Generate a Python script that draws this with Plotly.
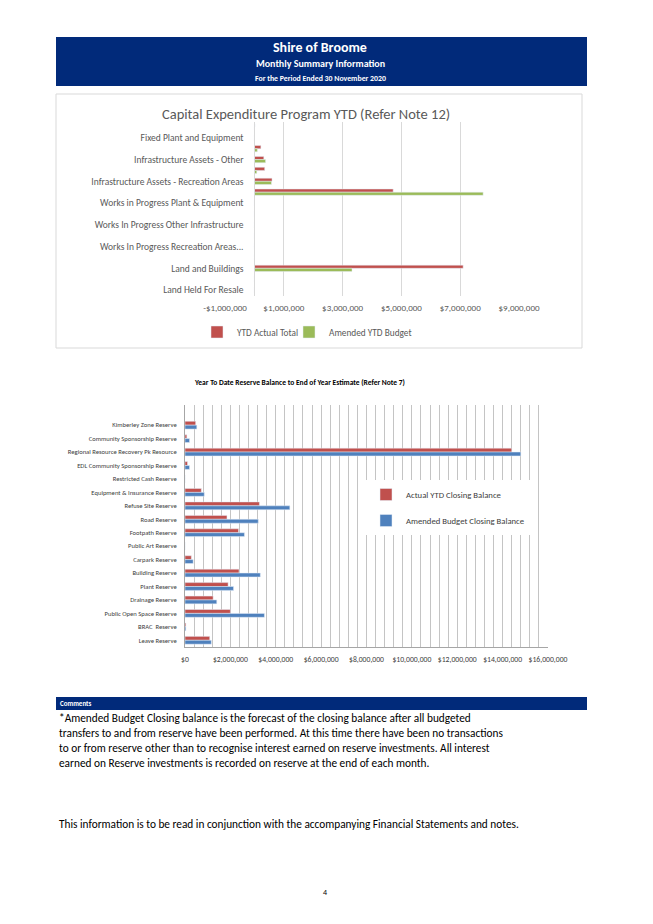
import plotly.graph_objects as go

W, H = 653, 924

# ---------------- Data ----------------
# Capital Expenditure Program YTD (listed top to bottom as drawn)
cap_categories = [
    "Furniture and Equipment",
    "Fixed Plant and Equipment",
    "Plant and Equipment",
    "Infrastructure Assets - Other",
    "Infrastructure Assets - Drainage",
    "Infrastructure Assets - Recreation Areas",
    "Infrastructure Assets - Roads",
    "Works in Progress Plant & Equipment",
    "Works In Progress Drainage",
    "Works In Progress Other Infrastructure",
    "Works In Progress Footpaths",
    "Works In Progress Recreation Areas...",
    "Works In Progress Roads",
    "Land and Buildings",
    "Works In Progress Buildings",
    "Land Held For Resale",
]
cap_labelled = [
    "Fixed Plant and Equipment",
    "Infrastructure Assets - Other",
    "Infrastructure Assets - Recreation Areas",
    "Works in Progress Plant & Equipment",
    "Works In Progress Other Infrastructure",
    "Works In Progress Recreation Areas...",
    "Land and Buildings",
    "Land Held For Resale",
]
ytd_actual_total = [20000, 0, 220000, 320000, 350000, 600000, 4720000, 0,
                    0, 0, 0, 0, 0, 7100000, 0, 0]
amended_ytd_budget = [0, 0, 100000, 380000, 80000, 580000, 7780000, 0,
                      0, 0, 0, 0, 0, 3320000, 0, 0]
cap_ticks = [-1000000, 1000000, 3000000, 5000000, 7000000, 9000000]

# Reserve balances (listed top to bottom as drawn)
reserves = [
    "Kimberley Zone Reserve",
    "Community Sponsorship Reserve",
    "Regional Resource Recovery Pk Resource",
    "EDL Community Sponsorship Reserve",
    "Restricted Cash Reserve",
    "Equipment & Insurance Reserve",
    "Refuse Site Reserve",
    "Road Reserve",
    "Footpath Reserve",
    "Public Art Reserve",
    "Carpark Reserve",
    "Building Reserve",
    "Plant Reserve",
    "Drainage Reserve",
    "Public Open Space Reserve",
    "BRAC  Reserve",
    "Leave Reserve",
]
actual_ytd_closing = [470000, 80000, 14400000, 110000, 0, 720000, 3280000,
                      1850000, 2360000, 0, 280000, 2380000, 1900000, 1240000,
                      2000000, 40000, 1090000]
amended_budget_closing = [520000, 200000, 14800000, 200000, 0, 850000, 4620000,
                          3230000, 2620000, 0, 360000, 3320000, 2140000, 1400000,
                          3500000, 40000, 1160000]
res_ticks = [0, 2000000, 4000000, 6000000, 8000000, 10000000, 12000000,
             14000000, 16000000]


def money(v):
    return ("-$" if v < 0 else "$") + f"{abs(v):,.0f}"


# page pixel -> paper fraction (the page body adds an 8px offset)
OFF = 8


def px(x):
    return (x - OFF) / W


def py(y):
    return 1 - (y - OFF) / H


FONT = "Calibri, Carlito, Lato, sans-serif"
NAVY = "#012a7a"
RED = "#c0504d"
GREEN = "#9bbb59"
BLUE = "#4f81bd"

fig = go.Figure()

fig.add_trace(go.Bar(y=cap_categories, x=ytd_actual_total, orientation="h",
                     name="YTD Actual Total", marker_color=RED,
                     xaxis="x", yaxis="y", legend="legend"))
fig.add_trace(go.Bar(y=cap_categories, x=amended_ytd_budget, orientation="h",
                     name="Amended YTD Budget", marker_color=GREEN,
                     xaxis="x", yaxis="y", legend="legend3"))
fig.add_trace(go.Bar(y=reserves, x=actual_ytd_closing, orientation="h",
                     name="Actual YTD Closing Balance", marker_color=RED,
                     xaxis="x2", yaxis="y2", legend="legend2",
                     legendgroup="a"))
fig.add_trace(go.Bar(y=reserves, x=amended_budget_closing, orientation="h",
                     name="Amended Budget Closing Balance", marker_color=BLUE,
                     xaxis="x2", yaxis="y2", legend="legend2",
                     legendgroup="b"))

# chart 1 geometry
c1x0, c1x1 = 225, 519
c1y0, c1y1 = 121.5, 295.5
cap_min, cap_max = -1000000, 9000000
zero_pos = px(c1x0) + (0 - cap_min) / (cap_max - cap_min) * (px(c1x1) - px(c1x0))

# chart 2 geometry
c2x0, c2x1 = 185, 548
c2y0, c2y1 = 405, 647

leg1_font = dict(size=9.3, color="#595959")

fig.update_layout(
    width=W, height=H,
    margin=dict(l=0, r=0, t=0, b=0, pad=0, autoexpand=False),
    paper_bgcolor="white", plot_bgcolor="rgba(0,0,0,0)",
    font=dict(family=FONT, color="#595959"),
    showlegend=True,
    barmode="group", bargap=0.42, bargroupgap=0,
    xaxis=dict(domain=[px(c1x0), px(c1x1)], anchor="y",
               range=[cap_min, cap_max], tickvals=cap_ticks,
               ticktext=[money(v) for v in cap_ticks],
               showgrid=True, gridcolor="#d9d9d9", gridwidth=1,
               zeroline=False, showline=False, ticks="", automargin=False,
               tickfont=dict(size=9, color="#595959"), ticklabelstandoff=5),
    yaxis=dict(domain=[py(c1y1), py(c1y0)], anchor="free", position=zero_pos,
               type="category", categoryorder="array",
               categoryarray=cap_categories, autorange="reversed",
               tickvals=cap_labelled, ticktext=cap_labelled, automargin=False,
               showgrid=False, zeroline=False, showline=True,
               linecolor="#d9d9d9", linewidth=1, ticks="",
               tickfont=dict(size=9.5, color="#595959"), ticklabelstandoff=9),
    xaxis2=dict(domain=[px(c2x0), px(c2x1)], anchor="y2",
                range=[0, 16000000], tickvals=res_ticks,
                ticktext=[money(v) for v in res_ticks], automargin=False,
                showgrid=True, gridcolor="#c4c4c4", gridwidth=1,
                minor=dict(dtick=400000, showgrid=True, gridcolor="#c4c4c4",
                           gridwidth=1, ticks=""),
                zeroline=False, showline=True, linecolor="#a6a6a6",
                ticks="", tickfont=dict(size=7.7, color="#404040"),
                ticklabelstandoff=5),
    yaxis2=dict(domain=[py(c2y1), py(c2y0)], anchor="x2",
                type="category", categoryorder="array", automargin=False,
                categoryarray=reserves, range=[16.5, -1.5],
                showgrid=False, zeroline=False, showline=True,
                linecolor="#a6a6a6", ticks="",
                tickfont=dict(size=6.6, color="#404040"), ticklabelstandoff=6),
    legend=dict(orientation="h", x=px(197), y=py(332), xanchor="left",
                yanchor="middle", font=leg1_font,
                bgcolor="rgba(0,0,0,0)"),
    legend3=dict(orientation="h", x=px(289), y=py(332), xanchor="left",
                 yanchor="middle", font=leg1_font,
                 bgcolor="rgba(0,0,0,0)"),
    legend2=dict(orientation="v", x=px(366), y=py(480), xanchor="left",
                 yanchor="top", font=dict(size=8.7, color="#404040"),
                 bgcolor="white", tracegroupgap=7, traceorder="grouped",
                 entrywidth=150, entrywidthmode="pixels"),
)

shapes = [
    # header band
    dict(type="rect", xref="paper", yref="paper", x0=px(56), x1=px(587),
         y0=py(86), y1=py(37), fillcolor=NAVY, line=dict(width=0),
         layer="below"),
    # chart 1 frame
    dict(type="rect", xref="paper", yref="paper", x0=px(56), x1=px(582),
         y0=py(348), y1=py(94), fillcolor="white",
         line=dict(color="#d9d9d9", width=1), layer="below"),
    # comments band
    dict(type="rect", xref="paper", yref="paper", x0=px(56), x1=px(587),
         y0=py(710), y1=py(697), fillcolor=NAVY, line=dict(width=0),
         layer="below"),
]
fig.update_layout(shapes=shapes)


def note(text, x, y, size, color="black", bold=False, xanchor="center"):
    t = f"<b>{text}</b>" if bold else text
    fig.add_annotation(text=t, x=px(x), y=py(y), xref="paper", yref="paper",
                       xanchor=xanchor, yanchor="middle", showarrow=False,
                       font=dict(family=FONT, size=size, color=color))


note("Shire of Broome", 320, 47, 14, "white", True)
note("Monthly Summary Information", 320, 64, 10, "white", True)
note("For the Period Ended 30 November 2020", 320, 79, 7.8, "white", True)
note("Capital Expenditure Program YTD (Refer Note 12)", 306, 114, 14.5,
     "#595959")
note("Year To Date Reserve Balance to End of Year Estimate (Refer Note 7)",
     299, 382, 7.5, "black", True)
note("Comments", 58, 703.5, 7, "white", True, "left")

para = [
    "*Amended Budget Closing balance is the forecast of the closing balance after all budgeted",
    "transfers to and from reserve have been performed. At this time there have been no transactions",
    "to or from reserve other than to recognise interest earned on reserve investments. All interest",
    "earned on Reserve investments is recorded on reserve at the end of each month.",
]
for i, line in enumerate(para):
    note(line, 57, 718 + 15 * i, 11.3, "black", False, "left")
note("This information is to be read in conjunction with the accompanying "
     "Financial Statements and notes.", 57, 824, 11.3, "black", False, "left")
note("4", 325, 892, 8, "black")

fig.write_html("out.html")
